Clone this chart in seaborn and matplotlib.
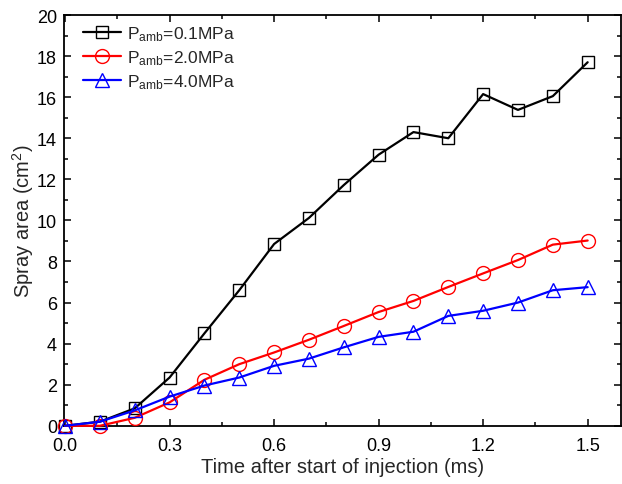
import matplotlib
matplotlib.use("Agg")
import matplotlib.pyplot as plt
import seaborn as sns
import numpy as np
import pandas as pd
from matplotlib.ticker import MultipleLocator, FormatStrFormatter

time_ms = [0.0, 0.1, 0.2, 0.3, 0.4, 0.5, 0.6, 0.7, 0.8, 0.9, 1.0, 1.1, 1.2, 1.3, 1.4, 1.5]
area_01 = [0.0, 0.2, 0.85, 2.35, 4.5, 6.6, 8.85, 10.12, 11.72, 13.2, 14.3, 14.0, 16.15, 15.38, 16.05, 17.7]
area_20 = [0.0, 0.0, 0.39, 1.14, 2.24, 3.0, 3.57, 4.19, 4.86, 5.54, 6.08, 6.76, 7.42, 8.07, 8.82, 9.02]
area_40 = [0.0, 0.2, 0.75, 1.42, 1.96, 2.35, 2.92, 3.27, 3.82, 4.33, 4.58, 5.35, 5.6, 6.0, 6.6, 6.75]
labels = [r"P$_{\rm amb}$=0.1MPa", r"P$_{\rm amb}$=2.0MPa", r"P$_{\rm amb}$=4.0MPa"]

sns.set_style("ticks")
plt.rcParams["font.family"] = ["Liberation Sans", "DejaVu Sans"]
plt.rcParams["mathtext.fontset"] = "custom"
plt.rcParams["mathtext.rm"] = "Liberation Sans"
plt.rcParams["mathtext.it"] = "Liberation Sans:italic"

fig = plt.figure(figsize=(6.22, 4.85), dpi=100)
ax = fig.add_axes([0.1029, 0.120, 0.8951, 0.847])

series = [(area_01, "black", "s", 9), (area_20, "red", "o", 10), (area_40, "blue", "^", 10)]
for (vals, col, mk, ms), lab in zip(series, labels):
    df = pd.DataFrame({"t": time_ms, "a": vals})
    sns.lineplot(data=df, x="t", y="a", ax=ax, color=col, marker=mk, markersize=ms,
                 markerfacecolor="none", markeredgecolor=col, markeredgewidth=1.0,
                 linewidth=1.6, label=lab, clip_on=False, zorder=3)

ax.set_xlim(-0.003, 1.595)
ax.set_ylim(0, 20)
ax.xaxis.set_major_locator(MultipleLocator(0.3))
ax.xaxis.set_minor_locator(MultipleLocator(0.15))
ax.yaxis.set_major_locator(MultipleLocator(2))
ax.yaxis.set_minor_locator(MultipleLocator(1))
ax.xaxis.set_major_formatter(FormatStrFormatter("%.1f"))

for s in ax.spines.values():
    s.set_linewidth(1.3)
    s.set_color("black")
    s.set_visible(True)
ax.tick_params(which="both", direction="in", top=True, right=True, labelsize=13, colors="black")
ax.tick_params(which="major", length=5, width=1.1)
ax.tick_params(which="minor", length=3, width=1.1)
ax.tick_params(axis="x", which="major", pad=8)
ax.tick_params(axis="y", which="major", pad=5)

ax.set_xlabel("Time after start of injection (ms)", fontsize=14.5, labelpad=2)
ax.set_ylabel(r"Spray area (cm$^2$)", fontsize=14.5, labelpad=1)

leg = ax.legend(loc="upper left", frameon=False, fontsize=12.5, handlelength=2.2,
                handletextpad=0.3, labelspacing=0.3, borderaxespad=0.0,
                bbox_to_anchor=(0.022, 0.995))

fig.savefig("out.png", dpi=100)
